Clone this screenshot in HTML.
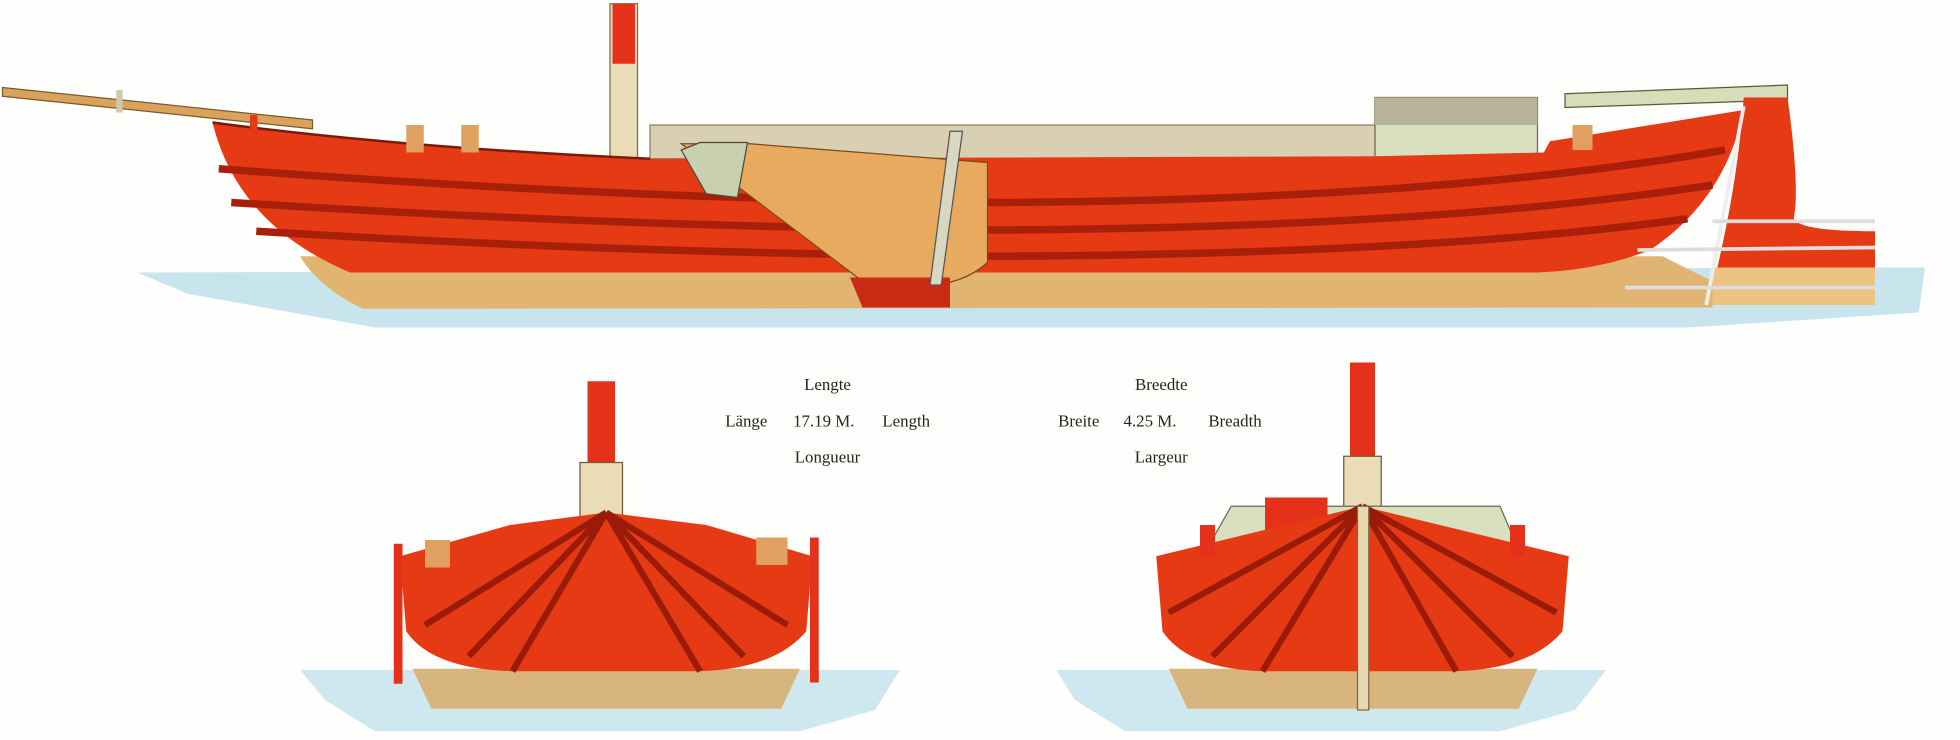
<!DOCTYPE html>
<html><head><meta charset="utf-8"><style>
html,body{margin:0;padding:0;background:#fff;}
svg{display:block}
text{font-family:"Liberation Serif",serif;font-size:13.5px;fill:#2a2418;}
</style></head><body>
<svg width="1960" height="740" viewBox="0 0 1568 592" xmlns="http://www.w3.org/2000/svg">
<rect width="1568" height="592" fill="#fefefc"/>
<path d="M110 218 L1540 214 L1535 250 L1350 262 L300 262 L150 235 Z" fill="#c8e5ee"/>
<path d="M2 70 L250 96 L250 103 L2 77 Z" fill="#d9a35e" stroke="#7a5a2a" stroke-width="1"/>
<rect x="93" y="72" width="5" height="18" fill="#cfc9a8"/>
<rect x="488" y="3" width="22" height="125" fill="#e9dcb6" stroke="#7a6a4a"/>
<rect x="490" y="3" width="18" height="48" fill="#e5301a"/>
<rect x="520" y="100" width="590" height="27" fill="#d9cfb2" stroke="#8a7f60"/>
<rect x="1100" y="78" width="130" height="50" fill="#d8e0c0" stroke="#6a6a4a"/>
<rect x="1100" y="78" width="130" height="22" fill="#b9b39a"/>
<path d="M1252 75 L1430 68 L1430 80 L1252 86 Z" fill="#d8dcb8" stroke="#5a5a3a"/>
<path d="M240 205 L1330 205 L1370 225 L1370 246 L290 247 Q255 230 240 205 Z" fill="#e2b472"/>
<path d="M170 98 Q320 118 520 127 L1100 125 L1235 122 L1240 113 L1395 88 Q1380 160 1320 200 Q1280 216 1230 218 L280 218 Q190 180 170 98 Z" fill="#e63a14"/>
<path d="M175 135 Q500 160 800 162 Q1150 160 1380 120" fill="none" stroke="#a8200c" stroke-width="6"/>
<path d="M185 162 Q500 182 800 184 Q1150 182 1370 148" fill="none" stroke="#a8200c" stroke-width="6"/>
<path d="M205 185 Q500 203 800 205 Q1150 203 1350 175" fill="none" stroke="#a8200c" stroke-width="6"/>
<path d="M170 98 Q320 118 520 127" fill="none" stroke="#7a1a08" stroke-width="2"/>
<path d="M545 115 L600 115 L790 130 L790 210 Q770 228 740 228 L690 225 Z" fill="#e8aa5e" stroke="#7a4a1a"/>
<path d="M680 222 L760 222 L760 246 L690 246 Z" fill="#c82a12"/>
<path d="M545 120 L560 114 L598 114 L590 158 L565 155 Z" fill="#c9d0b0" stroke="#4a4a3a"/>
<path d="M760 105 L770 105 L753 228 L744 228 Z" fill="#d8d8c0" stroke="#555"/>
<rect x="325" y="100" width="14" height="22" fill="#e0a060"/><rect x="369" y="100" width="14" height="22" fill="#e0a060"/>
<rect x="1258" y="100" width="16" height="20" fill="#e0a060"/>
<rect x="200" y="92" width="6" height="40" fill="#e63a14"/>
<path d="M1395 78 L1430 78 Q1440 150 1435 175 Q1440 185 1500 185 L1500 244 L1370 244 L1370 230 Q1390 150 1395 78 Z" fill="#e63a14"/>
<rect x="1370" y="214" width="130" height="30" fill="#ecc383"/>
<path d="M1395 85 L1365 244" stroke="#eee" stroke-width="3"/>
<path d="M1370 177 L1500 177 M1310 200 L1500 198 M1300 230 L1500 230" stroke="#ddd" stroke-width="3"/>
<g text-anchor="middle">
<text x="662" y="312">Lengte</text>
<text x="597" y="341">Länge</text><text x="659" y="341">17.19 M.</text><text x="725" y="341">Length</text>
<text x="662" y="370">Longueur</text>
<text x="929" y="312">Breedte</text>
<text x="863" y="341">Breite</text><text x="920" y="341">4.25 M.</text><text x="988" y="341">Breadth</text>
<text x="929" y="370">Largeur</text>
</g>
<path d="M240 536 L720 536 L700 568 L640 585 L300 585 L260 560 Z" fill="#cfe8f0"/>
<rect x="470" y="305" width="22" height="110" fill="#e5301a"/>
<rect x="464" y="370" width="34" height="45" fill="#e9dcb6" stroke="#6a5a3a"/>
<path d="M345 567 L625 567 L640 535 L330 535 Z" fill="#d8b57e"/>
<path d="M320 445 L408 420 L485 410 L565 420 L650 445 L645 505 Q620 535 560 537 L410 537 Q345 535 325 505 Z" fill="#e63a14"/>
<path d="M485 410 L410 537 M485 410 L560 537 M485 410 L340 500 M485 410 L630 500 M485 410 L375 525 M485 410 L595 525" stroke="#9a1c08" stroke-width="5" fill="none"/>
<rect x="315" y="435" width="7" height="112" fill="#e5301a"/><rect x="648" y="430" width="7" height="116" fill="#e5301a"/>
<rect x="340" y="432" width="20" height="22" fill="#e0a060"/><rect x="605" y="430" width="25" height="22" fill="#e0a060"/>
<path d="M845 536 L1285 536 L1260 568 L1200 585 L900 585 L860 560 Z" fill="#cfe8f0"/>
<rect x="1080" y="290" width="20" height="85" fill="#e5301a"/>
<rect x="1075" y="365" width="30" height="45" fill="#e9dcb6" stroke="#6a5a3a"/>
<path d="M985 405 L1200 405 L1215 440 L965 440 Z" fill="#d8e0c0" stroke="#6a6a4a"/>
<rect x="1012" y="398" width="50" height="30" fill="#e5301a"/>
<path d="M950 567 L1215 567 L1230 535 L935 535 Z" fill="#d8b57e"/>
<path d="M925 445 L1090 405 L1255 445 L1250 505 Q1225 535 1165 537 L1010 537 Q950 535 930 505 Z" fill="#e63a14"/>
<path d="M1090 405 L1010 537 M1090 405 L1165 537 M1090 405 L935 490 M1090 405 L1245 490 M1090 405 L970 525 M1090 405 L1210 525" stroke="#9a1c08" stroke-width="5" fill="none"/>
<rect x="1086" y="405" width="9" height="163" fill="#e6d8b0" stroke="#7a6a4a"/>
<rect x="960" y="420" width="12" height="25" fill="#e5301a"/><rect x="1208" y="420" width="12" height="25" fill="#e5301a"/>
</svg>
</body></html>
